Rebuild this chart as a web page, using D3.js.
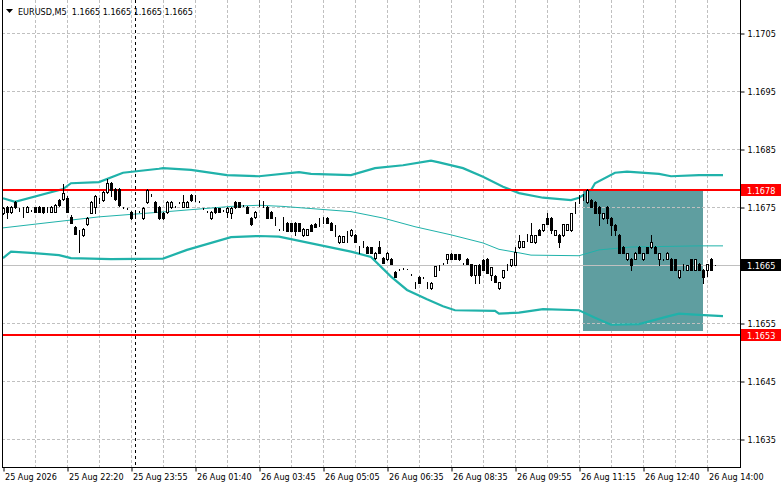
<!DOCTYPE html>
<html>
<head>
<meta charset="utf-8">
<script src="https://cdn.jsdelivr.net/npm/d3@7"></script>
<style>
  html, body { margin: 0; padding: 0; background: #fff; }
  svg { display: block; }
  text { font-family: "DejaVu Sans Condensed", "DejaVu Sans", sans-serif; font-size: 9px; fill: #000; white-space: pre; }
</style>
</head>
<body>
<svg id="chart" width="781" height="489"></svg>
<script>
// EURUSD M5 bars, [open, high, low, close]
var bars = [
  [1.16740,1.16750,1.16738,1.16748],[1.16750,1.16752,1.16731,1.16741],[1.16741,1.16752,1.16740,1.16750],
  [1.16759,1.16760,1.16748,1.16750],[1.16747,1.16748,1.16743,1.16747],[1.16748,1.16750,1.16733,1.16748],
  [1.16741,1.16752,1.16741,1.16750],[1.16743,1.16745,1.16743,1.16743],[1.16750,1.16750,1.16741,1.16741],
  [1.16750,1.16752,1.16741,1.16741],[1.16750,1.16750,1.16740,1.16741],[1.16748,1.16750,1.16741,1.16748],
  [1.16741,1.16752,1.16741,1.16750],[1.16741,1.16755,1.16741,1.16753],[1.16762,1.16764,1.16752,1.16753],
  [1.16764,1.16790,1.16762,1.16774],[1.16766,1.16769,1.16741,1.16741],[1.16733,1.16736,1.16722,1.16722],
  [1.16716,1.16717,1.16703,1.16703],[1.16693,1.16710,1.16672,1.16693],[1.16702,1.16714,1.16700,1.16712],
  [1.16721,1.16733,1.16719,1.16731],[1.16740,1.16760,1.16740,1.16759],[1.16750,1.16771,1.16740,1.16769],
  [1.16762,1.16766,1.16757,1.16762],[1.16762,1.16778,1.16760,1.16776],[1.16776,1.16798,1.16774,1.16791],
  [1.16791,1.16793,1.16769,1.16779],[1.16781,1.16783,1.16762,1.16764],[1.16781,1.16783,1.16752,1.16753],
  [1.16748,1.16750,1.16748,1.16748],[1.16748,1.16748,1.16747,1.16748],[1.16741,1.16743,1.16729,1.16731],
  [1.16743,1.16745,1.16734,1.16743],[1.16741,1.16743,1.16741,1.16741],[1.16731,1.16750,1.16729,1.16748],
  [1.16759,1.16781,1.16757,1.16779],[1.16771,1.16772,1.16769,1.16771],[1.16759,1.16760,1.16741,1.16741],
  [1.16750,1.16752,1.16729,1.16731],[1.16740,1.16741,1.16729,1.16731],[1.16741,1.16760,1.16740,1.16759],
  [1.16750,1.16760,1.16748,1.16759],[1.16750,1.16752,1.16750,1.16750],[1.16759,1.16759,1.16757,1.16759],
  [1.16750,1.16771,1.16750,1.16759],[1.16750,1.16760,1.16750,1.16759],[1.16771,1.16772,1.16760,1.16762],
  [1.16769,1.16771,1.16760,1.16769],[1.16759,1.16760,1.16759,1.16759],[1.16748,1.16748,1.16747,1.16748],
  [1.16741,1.16743,1.16741,1.16741],[1.16731,1.16743,1.16729,1.16741],[1.16748,1.16750,1.16740,1.16741],
  [1.16748,1.16748,1.16741,1.16741],[1.16745,1.16745,1.16743,1.16745],[1.16741,1.16750,1.16733,1.16748],
  [1.16740,1.16750,1.16731,1.16748],[1.16759,1.16760,1.16748,1.16750],[1.16759,1.16759,1.16750,1.16750],
  [1.16753,1.16753,1.16752,1.16753],[1.16750,1.16752,1.16740,1.16740],[1.16731,1.16733,1.16719,1.16721],
  [1.16733,1.16743,1.16731,1.16741],[1.16753,1.16762,1.16752,1.16753],[1.16759,1.16760,1.16750,1.16759],
  [1.16750,1.16752,1.16731,1.16731],[1.16741,1.16743,1.16731,1.16731],[1.16721,1.16733,1.16719,1.16721],
  [1.16712,1.16712,1.16710,1.16712],[1.16731,1.16733,1.16710,1.16731],[1.16722,1.16724,1.16709,1.16709],
  [1.16722,1.16722,1.16709,1.16709],[1.16722,1.16724,1.16702,1.16709],[1.16722,1.16722,1.16709,1.16709],
  [1.16702,1.16714,1.16700,1.16712],[1.16702,1.16712,1.16702,1.16712],[1.16719,1.16721,1.16709,1.16709],
  [1.16721,1.16722,1.16716,1.16716],[1.16719,1.16731,1.16717,1.16719],[1.16731,1.16733,1.16722,1.16731],
  [1.16731,1.16733,1.16722,1.16722],[1.16722,1.16724,1.16710,1.16710],[1.16702,1.16719,1.16700,1.16702],
  [1.16690,1.16702,1.16688,1.16700],[1.16690,1.16700,1.16690,1.16700],[1.16698,1.16709,1.16690,1.16698],
  [1.16702,1.16712,1.16700,1.16710],[1.16702,1.16703,1.16690,1.16690],[1.16681,1.16683,1.16671,1.16681],
  [1.16690,1.16691,1.16681,1.16690],[1.16681,1.16683,1.16671,1.16671],[1.16681,1.16681,1.16671,1.16671],
  [1.16662,1.16672,1.16660,1.16671],[1.16681,1.16691,1.16671,1.16671],[1.16662,1.16664,1.16653,1.16653],
  [1.16660,1.16672,1.16659,1.16671],[1.16660,1.16662,1.16652,1.16652],[1.16638,1.16640,1.16629,1.16629],
  [1.16643,1.16643,1.16641,1.16643],[1.16643,1.16645,1.16643,1.16643],[1.16643,1.16643,1.16643,1.16643],
  [1.16633,1.16634,1.16633,1.16633],[1.16619,1.16621,1.16610,1.16619],[1.16629,1.16631,1.16619,1.16619],
  [1.16629,1.16629,1.16628,1.16629],[1.16619,1.16621,1.16610,1.16619],[1.16610,1.16621,1.16609,1.16619],
  [1.16631,1.16648,1.16631,1.16648],[1.16645,1.16650,1.16641,1.16645],[1.16653,1.16653,1.16652,1.16653],
  [1.16660,1.16669,1.16653,1.16669],[1.16669,1.16671,1.16660,1.16660],[1.16669,1.16669,1.16660,1.16660],
  [1.16669,1.16669,1.16659,1.16660],[1.16652,1.16653,1.16652,1.16652],[1.16660,1.16662,1.16652,1.16652],
  [1.16652,1.16652,1.16631,1.16633],[1.16633,1.16650,1.16619,1.16650],[1.16650,1.16652,1.16619,1.16633],
  [1.16659,1.16660,1.16641,1.16641],[1.16660,1.16662,1.16636,1.16636],[1.16633,1.16647,1.16624,1.16647],
  [1.16631,1.16633,1.16621,1.16621],[1.16610,1.16621,1.16609,1.16621],[1.16629,1.16641,1.16628,1.16641],
  [1.16650,1.16652,1.16641,1.16650],[1.16650,1.16660,1.16648,1.16660],[1.16650,1.16681,1.16650,1.16672],
  [1.16681,1.16702,1.16679,1.16691],[1.16681,1.16691,1.16681,1.16691],[1.16702,1.16703,1.16691,1.16702],
  [1.16690,1.16722,1.16690,1.16702],[1.16690,1.16702,1.16688,1.16702],[1.16710,1.16712,1.16702,1.16702],
  [1.16710,1.16721,1.16709,1.16721],[1.16731,1.16740,1.16721,1.16721],[1.16731,1.16733,1.16705,1.16710],
  [1.16702,1.16710,1.16702,1.16710],[1.16702,1.16703,1.16681,1.16690],[1.16702,1.16721,1.16700,1.16721],
  [1.16710,1.16721,1.16710,1.16721],[1.16710,1.16740,1.16709,1.16740],[1.16750,1.16759,1.16740,1.16750],
  [1.16769,1.16771,1.16757,1.16769],[1.16771,1.16772,1.16762,1.16771],[1.16759,1.16781,1.16757,1.16779],
  [1.16762,1.16764,1.16750,1.16750],[1.16759,1.16760,1.16740,1.16740],[1.16750,1.16752,1.16719,1.16740],
  [1.16731,1.16740,1.16729,1.16740],[1.16750,1.16752,1.16722,1.16731],[1.16731,1.16733,1.16702,1.16719],
  [1.16719,1.16721,1.16702,1.16710],[1.16702,1.16703,1.16671,1.16671],[1.16681,1.16683,1.16671,1.16671],
  [1.16660,1.16671,1.16659,1.16671],[1.16660,1.16662,1.16641,1.16650],[1.16660,1.16672,1.16660,1.16671],
  [1.16681,1.16683,1.16671,1.16671],[1.16660,1.16671,1.16659,1.16671],[1.16681,1.16681,1.16671,1.16671],
  [1.16681,1.16702,1.16679,1.16690],[1.16681,1.16683,1.16671,1.16671],[1.16660,1.16671,1.16650,1.16671],
  [1.16660,1.16660,1.16659,1.16660],[1.16660,1.16672,1.16660,1.16671],[1.16660,1.16662,1.16641,1.16641],
  [1.16660,1.16660,1.16641,1.16641],[1.16629,1.16641,1.16628,1.16641],[1.16650,1.16652,1.16641,1.16650],
  [1.16641,1.16650,1.16641,1.16650],[1.16660,1.16660,1.16641,1.16641],[1.16641,1.16660,1.16641,1.16660],
  [1.16652,1.16653,1.16641,1.16641],[1.16641,1.16643,1.16619,1.16629],[1.16641,1.16652,1.16631,1.16652],
  [1.16660,1.16662,1.16641,1.16641],[1.16650,1.16650,1.16650,1.16650]
]

// Bollinger bands: [bar index, price]
var upperBand = [
  [0,1.16765],[3,1.16759],[15,1.16781],[17,1.16791],[24,1.16793],[30,1.16809],[39,1.16816],[40,1.16817],
  [47,1.16814],[56,1.16805],[64,1.16803],[74,1.16810],[77,1.16807],[87,1.16805],[93,1.16817],[100,1.16822],
  [107,1.16830],[109,1.16827],[115,1.16817],[120,1.16802],[125,1.16785],[129,1.16774],[135,1.16766],
  [142,1.16762],[144,1.16766],[147,1.16779],[148,1.16791],[153,1.16809],[156,1.16811],[164,1.16807],
  [167,1.16803],[174,1.16805],[180,1.16805]
]
var middleBand = [
  [0,1.16714],[10,1.16722],[24,1.16733],[41,1.16742],[57,1.16751],[64,1.16753],[70,1.16751],[87,1.16742],
  [95,1.16731],[103,1.16716],[112,1.16702],[120,1.16688],[124,1.16677],[129,1.16671],[132,1.16667],
  [144,1.16666],[149,1.16676],[157,1.16681],[174,1.16683],[180,1.16683]
]
var lowerBand = [
  [0,1.16662],[2,1.16673],[7,1.16671],[14,1.16667],[17,1.16662],[27,1.16660],[40,1.16661],[46,1.16676],
  [57,1.16698],[64,1.16700],[69,1.16699],[87,1.16673],[92,1.16664],[97,1.16630],[101,1.16607],[106,1.16591],
  [110,1.16579],[113,1.16572],[123,1.16571],[124,1.16566],[129,1.16568],[135,1.16574],[144,1.16572],
  [148,1.16559],[152,1.16547],[159,1.16548],[166,1.16561],[169,1.16566],[174,1.16564],[180,1.16562]
]

var priceTicks = [1.1635, 1.1645, 1.1655, 1.1665, 1.1675, 1.1685, 1.1695, 1.1705]
var timeTickIdx = [0, 16, 32, 48, 64, 80, 96, 112, 128, 144, 160, 176]
var timeLabels = ['25 Aug 2026', '25 Aug 22:20', '25 Aug 23:55', '26 Aug 01:40', '26 Aug 03:45', '26 Aug 05:05',
  '26 Aug 06:35', '26 Aug 08:35', '26 Aug 09:55', '26 Aug 11:15', '26 Aug 12:40', '26 Aug 14:00']
var levels = [1.1678, 1.1653]
var zone = { from: 145, to: 175, top: 1.1678, bottom: 1.16537 }
var daySeparator = 33
var lastPrice = 1.1665
var title = 'EURUSD,M5  1.1665 1.1665 1.1665 1.1665'

var W = 781, H = 489
  , plot = { left: 2, right: 740, top: 0, bottom: 467 }

var svg = d3.select('#chart')

var x = d3.scaleLinear().domain([0, 178]).range([3, 715])
var y = d3.scaleLinear().domain([1.1635, 1.1705]).range([439, 33])

svg.append('clipPath').attr('id', 'plotclip')
  .append('rect')
  .attr('x', plot.left).attr('y', plot.top)
  .attr('width', plot.right - plot.left).attr('height', plot.bottom - plot.top)

var g = svg.append('g').attr('clip-path', 'url(#plotclip)')

// vertical grid
var gridX = d3.range(35, plot.right - 1, 32)
g.selectAll('line.vgrid').data(gridX)
  .enter().append('line').attr('class', 'vgrid')
  .attr('x1', function(d) { return d + 0.5 }).attr('x2', function(d) { return d + 0.5 })
  .attr('y1', plot.top).attr('y2', plot.bottom)
  .attr('stroke', '#c0c0c0').attr('stroke-dasharray', '3,2')

// zone rectangle
g.append('rect')
  .attr('x', x(zone.from)).attr('y', Math.round(y(zone.top)) - 1)
  .attr('width', x(zone.to) - x(zone.from))
  .attr('height', Math.round(y(zone.bottom)) - Math.round(y(zone.top)) + 1)
  .attr('fill', '#5f9ea0')

// horizontal grid sits over the zone
g.selectAll('line.hgrid').data(priceTicks)
  .enter().append('line').attr('class', 'hgrid')
  .attr('x1', plot.left).attr('x2', plot.right)
  .attr('y1', function(d) { return Math.round(y(d)) + 0.5 })
  .attr('y2', function(d) { return Math.round(y(d)) + 0.5 })
  .attr('stroke', '#c0c0c0').attr('stroke-dasharray', '3,2')

// day separator
g.append('line')
  .attr('x1', x(daySeparator) + 0.5).attr('x2', x(daySeparator) + 0.5)
  .attr('y1', plot.top).attr('y2', plot.bottom)
  .attr('stroke', '#000').attr('stroke-dasharray', '3,3')

// last price line
g.append('line')
  .attr('x1', plot.left).attr('x2', plot.right)
  .attr('y1', Math.round(y(lastPrice)) + 0.5).attr('y2', Math.round(y(lastPrice)) + 0.5)
  .attr('stroke', '#c0c0c0')

// bands
var bandLine = d3.line()
  .x(function(d) { return x(d[0]) })
  .y(function(d) { return y(d[1]) })

g.append('path').datum(upperBand).attr('d', bandLine)
  .attr('fill', 'none').attr('stroke', '#20b2aa').attr('stroke-width', 2.2)
g.append('path').datum(lowerBand).attr('d', bandLine)
  .attr('fill', 'none').attr('stroke', '#20b2aa').attr('stroke-width', 2.2)
g.append('path').datum(middleBand).attr('d', bandLine)
  .attr('fill', 'none').attr('stroke', '#20b2aa').attr('stroke-width', 1)

// level lines
g.selectAll('line.level').data(levels)
  .enter().append('line').attr('class', 'level')
  .attr('x1', plot.left).attr('x2', plot.right)
  .attr('y1', function(d) { return Math.round(y(d)) }).attr('y2', function(d) { return Math.round(y(d)) })
  .attr('stroke', '#ff0000').attr('stroke-width', 2)

// candles
var candles = g.append('g').attr('shape-rendering', 'crispEdges')
  .selectAll('g.bar').data(bars)
  .enter().append('g').attr('class', 'bar')

candles.append('line')
  .attr('x1', function(d, i) { return x(i) + 0.5 }).attr('x2', function(d, i) { return x(i) + 0.5 })
  .attr('y1', function(d) { return Math.round(y(d[1])) })
  .attr('y2', function(d) { return Math.round(y(d[2])) + 1 })
  .attr('stroke', '#000')

candles.append('rect')
  .attr('x', function(d, i) { return x(i) - 0.5 })
  .attr('y', function(d) { return Math.round(y(Math.max(d[0], d[3]))) + 0.5 })
  .attr('width', 2)
  .attr('height', function(d) {
    return Math.round(y(Math.min(d[0], d[3]))) - Math.round(y(Math.max(d[0], d[3])))
  })
  .attr('fill', function(d) { return d[3] > d[0] ? '#fff' : '#000' })
  .attr('stroke', '#000')

// frame
svg.append('g').attr('shape-rendering', 'crispEdges')
  .selectAll('line.frame')
  .data([[plot.left, plot.top, plot.left, plot.bottom], [plot.left, plot.bottom, plot.right, plot.bottom],
    [plot.right, plot.top, plot.right, plot.bottom]])
  .enter().append('line')
  .attr('x1', function(d) { return d[0] + 0.5 }).attr('y1', function(d) { return d[1] })
  .attr('x2', function(d) { return d[2] + 0.5 }).attr('y2', function(d) { return d[3] + 0.5 })
  .attr('stroke', '#000')

// price axis
var yAxis = svg.append('g')
  .attr('transform', 'translate(' + (plot.right + 0.5) + ',0.5)')
  .call(d3.axisRight(y).tickValues(priceTicks).tickSize(4).tickPadding(3).tickFormat(d3.format('.4f')))
yAxis.select('.domain').remove()
yAxis.selectAll('.tick line').attr('stroke', '#000')
yAxis.selectAll('.tick text').attr('font-size', null).attr('font-family', null).attr('fill', '#000')

// time axis
var xAxis = svg.append('g')
  .attr('transform', 'translate(0.5,' + (plot.bottom + 0.5) + ')')
  .call(d3.axisBottom(x).tickValues(timeTickIdx).tickSize(4)
    .tickFormat(function(d, i) { return timeLabels[i] }))
xAxis.select('.domain').remove()
xAxis.selectAll('.tick line').attr('stroke', '#000')
xAxis.selectAll('.tick text')
  .attr('font-size', null).attr('font-family', null).attr('fill', '#000')
  .attr('text-anchor', 'start').attr('x', 1).attr('y', 6).attr('dy', '0.71em')

// price labels on the axis
var tags = [
  { v: levels[0], bg: '#ff0000' },
  { v: lastPrice, bg: '#000000' },
  { v: levels[1], bg: '#ff0000' }
]
var tag = svg.selectAll('g.tag').data(tags).enter().append('g').attr('class', 'tag')
tag.append('rect')
  .attr('x', plot.right + 1).attr('y', function(d) { return Math.round(y(d.v)) - 6 })
  .attr('width', W - plot.right - 1).attr('height', 12)
  .attr('fill', function(d) { return d.bg })
tag.append('text')
  .attr('x', plot.right + 7).attr('y', function(d) { return Math.round(y(d.v)) + 0.5 })
  .attr('dy', '0.35em')
  .style('fill', '#fff')
  .text(function(d) { return d3.format('.4f')(d.v) })

// title
svg.append('path').attr('d', 'M6,9 L13,9 L9.5,13 Z').attr('fill', '#000')
svg.append('text').attr('x', 18).attr('y', 14.5).attr('xml:space', 'preserve').text(title)
</script>
</body>
</html>
